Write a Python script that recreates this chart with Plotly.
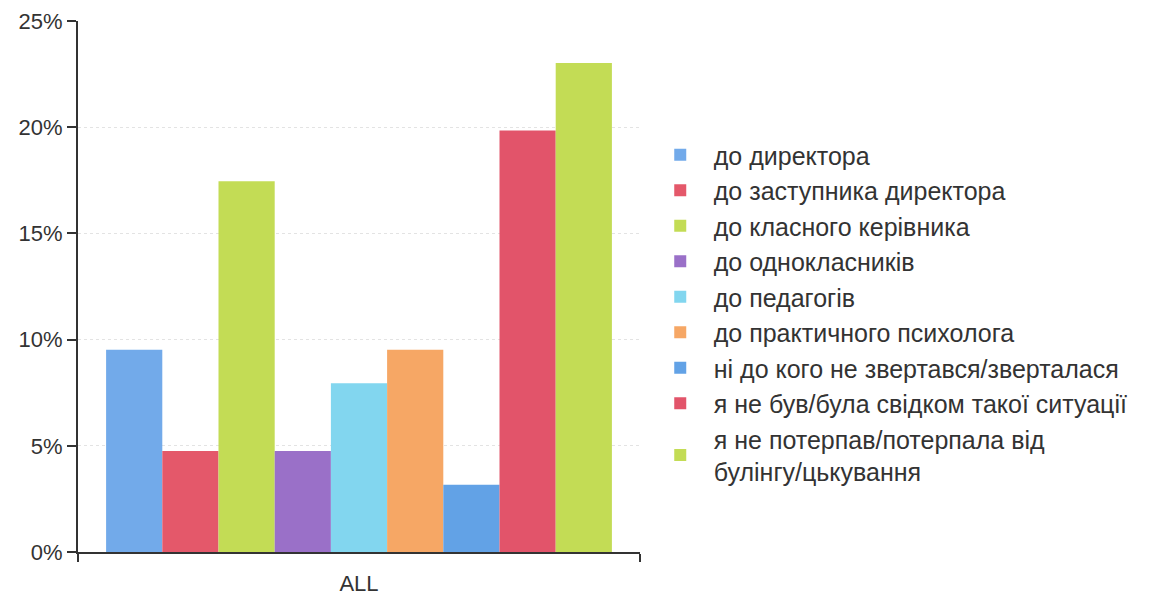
import plotly.graph_objects as go

categories = ["ALL"]
series_names = [
    "до директора",
    "до заступника директора",
    "до класного керівника",
    "до однокласників",
    "до педагогів",
    "до практичного психолога",
    "ні до кого не звертався/зверталася",
    "я не був/була свідком такої ситуації",
    "я не потерпав/потерпала від<br>булінгу/цькування",
]
series_values = [9.52, 4.76, 17.46, 4.76, 7.94, 9.52, 3.17, 19.84, 23.02]
series_colors = ["#72aaea", "#e4586a", "#c3dc55", "#9a70c8", "#82d6ef",
                 "#f6a765", "#62a2e6", "#e2546a", "#c3dc55"]
y_ticks = [0, 5, 10, 15, 20, 25]
y_ticklabels = ["0%", "5%", "10%", "15%", "20%", "25%"]

fig = go.Figure()
for name, val, col in zip(series_names, series_values, series_colors):
    fig.add_trace(go.Bar(x=categories, y=[val], name=name, marker_color=col,
                         marker_line_width=0))

fig.update_layout(
    width=1149, height=598,
    margin=dict(l=70, r=517, t=13, b=54),
    paper_bgcolor="white", plot_bgcolor="white",
    barmode="group", bargap=0.1, bargroupgap=0,
    font=dict(family="Liberation Sans, Arial, sans-serif", size=22, color="#333333"),
    legend=dict(x=1.012, y=0.45, xanchor="left", yanchor="middle",
                font=dict(size=25, color="#333333"), tracegroupgap=0,
                itemwidth=57),
    showlegend=True,
)
fig.update_yaxes(range=[0, 25], tickvals=y_ticks, ticktext=y_ticklabels,
                 showline=True, linecolor="#333333", linewidth=2,
                 ticks="outside", ticklen=9, tickwidth=2, tickcolor="#333333",
                 showgrid=True, gridcolor="#e3e3e3", griddash="dot", gridwidth=1,
                 zeroline=False, tickfont=dict(size=22), automargin=False,
                 ticklabeloverflow="allow")
fig.update_xaxes(showline=True, linecolor="#333333", linewidth=2,
                 ticks="outside", tickson="boundaries", ticklen=8, tickwidth=2,
                 tickcolor="#333333", ticklabelstandoff=11,
                 tickfont=dict(size=22), automargin=False)
fig.write_html("out.html")
